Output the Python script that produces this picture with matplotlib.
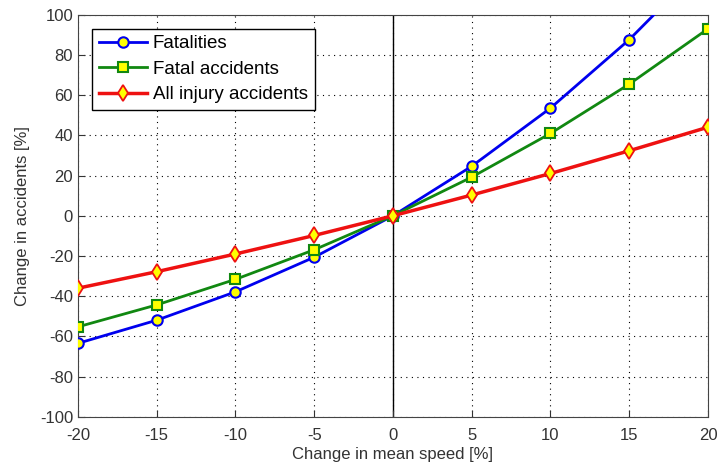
import matplotlib
matplotlib.use("Agg")
from matplotlib import pyplot as plt

speed_change = [-20, -15, -10, -5, 0, 5, 10, 15, 20]
fatalities = [-63.4, -51.9, -37.8, -20.6, 0, 24.6, 53.5, 87.5, 127.0]
fatal_accidents = [-55.2, -44.3, -31.6, -16.9, 0, 19.2, 40.9, 65.4, 92.9]
injury_accidents = [-36.0, -27.8, -19.0, -9.8, 0, 10.3, 21.0, 32.3, 44.0]

plt.rcParams["font.family"] = ["Liberation Sans", "DejaVu Sans"]
plt.rcParams["axes.unicode_minus"] = False

fig = plt.figure(figsize=(7.18, 4.7), dpi=100)
ax = fig.add_axes([0.1086, 0.1128, 0.8774, 0.8563])

ax.axvline(0, color="black", linewidth=1, zorder=1)

ax.plot(speed_change, fatalities, "-o", color="#0000ee", linewidth=2,
        markersize=7.5, markerfacecolor="#ffff00", markeredgecolor="#0000ee",
        markeredgewidth=1.5, label="Fatalities", zorder=3)
ax.plot(speed_change, fatal_accidents, "-s", color="#118811", linewidth=2,
        markersize=7, markerfacecolor="#ffff00", markeredgecolor="#118811",
        markeredgewidth=1.5, label="Fatal accidents", zorder=3)
ax.plot(speed_change, injury_accidents, "-d", color="#ee1111", linewidth=2.5,
        markersize=8.5, markerfacecolor="#ffff00", markeredgecolor="#ee1111",
        markeredgewidth=1.3, label="All injury accidents", zorder=3)

ax.set_xlim(-20, 20)
ax.set_ylim(-100, 100)
ax.set_xticks(range(-20, 21, 5))
ax.set_yticks(range(-100, 101, 20))
ax.grid(True, color="black", linestyle=(0, (1, 4)), linewidth=0.8)
ax.tick_params(direction="in", labelsize=12, colors="#333333", length=5)
ax.tick_params(axis="x", pad=8)
for s in ax.spines.values():
    s.set_color("#444444")
ax.set_xlabel("Change in mean speed [%]", fontsize=12, color="#333333", labelpad=3)
ax.set_ylabel("Change in accidents [%]", fontsize=12, color="#333333", labelpad=7)

leg = ax.legend(loc="upper left", fontsize=13.5, fancybox=False, framealpha=1,
                edgecolor="black", borderaxespad=0.75, handlelength=2.6,
                labelspacing=0.45, borderpad=0.35, handletextpad=0.3)
leg.get_frame().set_linewidth(1)

plt.savefig("out.png", dpi=100)
